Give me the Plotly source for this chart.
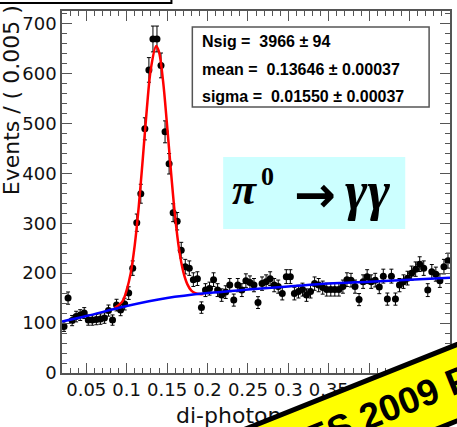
import plotly.graph_objects as go

# ---------------- data ----------------
bin_low = 0.02
bin_width = 0.005
counts = [93, 150, 105, 113, 116, 120, 106, 106, 107, 108,
          110, 125, 106, 136, 126, 138, 160, 210, 301, 359,
          489, 607, 669, 669, 616, 483, 419, 321, 304, 246,
          213, 210, 187, 189, 131, 166, 169, 187, 166, 156,
          162, 176, 146, 176, 166, 185, 181, 176, 141, 179,
          183, 189, 176, 173, 159, 193, 193, 159, 163, 167,
          156, 163, 179, 176, 171, 167, 167, 167, 167, 173,
          187, 186, 173, 147, 183, 193, 183, 186, 172, 194,
          148, 194, 148, 176, 183, 190, 200, 208, 218, 210,
          166, 203, 198, 185, 213, 225]
bin_centers = [round(bin_low + bin_width * (i + 0.5), 5) for i in range(len(counts))]

# total fit (signal + background)
total_x = [0.085, 0.09, 0.095, 0.10, 0.105, 0.11, 0.115, 0.12, 0.125, 0.13,
           0.1365, 0.14, 0.145, 0.15, 0.155, 0.16, 0.165, 0.17, 0.175, 0.18,
           0.185, 0.19, 0.195]
total_y = [130, 136, 144, 166, 200, 256, 334, 430, 530, 610,
           655, 643, 585, 496, 400, 312, 246, 203, 178, 165,
           160, 158, 158]

# background component
bkg_x = [0.02, 0.05, 0.10, 0.15, 0.20, 0.25, 0.30, 0.35, 0.40, 0.45, 0.50]
bkg_y = [103, 114, 134, 150, 160, 167, 173, 179, 183, 187, 191]

x_tickvals = [0.05, 0.1, 0.15, 0.2, 0.25, 0.3, 0.35, 0.4, 0.45, 0.5]
x_ticktext = ["0.05", "0.1", "0.15", "0.2", "0.25", "0.3", "0.35", "0.4", "0.45", "0.5"]
y_tickvals = [0, 100, 200, 300, 400, 500, 600, 700]

stats_lines = ["Nsig =  3966 \u00b1 94",
               "mean =  0.13646 \u00b1 0.00037",
               "sigma =  0.01550 \u00b1 0.00037"]

# ---------------- geometry helpers (layout only) ----------------
W, H = 457, 427
L, R, T, B = 62, 452, 11, 373


def pxx(px):
    return (px - L) / (R - L)


def pxy(py):
    return (B - py) / (B - T)


fig = go.Figure()

fig.add_trace(go.Scatter(
    x=bin_centers, y=counts, mode="markers",
    marker=dict(color="black", size=7),
    error_y=dict(type="sqrt", color="black", thickness=1, width=2),
    showlegend=False, hoverinfo="skip"))

fig.add_trace(go.Scatter(
    x=total_x, y=total_y, mode="lines",
    line=dict(color="#ff0000", width=2.5, shape="spline"),
    showlegend=False, hoverinfo="skip"))

fig.add_trace(go.Scatter(
    x=bkg_x, y=bkg_y, mode="lines",
    line=dict(color="#0000ff", width=2.5, shape="spline"),
    showlegend=False, hoverinfo="skip"))

axis_common = dict(
    showgrid=False, zeroline=False, showline=True, linecolor="#555555",
    linewidth=1.5, mirror="ticks", ticks="inside", tickcolor="#555555",
    tickwidth=1.2, ticklen=10,
    tickfont=dict(family="DejaVu Sans", size=18, color="#111111"),
)

fig.update_xaxes(range=[0.02, 0.5], tickvals=x_tickvals, ticktext=x_ticktext,
                 minor=dict(dtick=0.01, ticks="inside", ticklen=5,
                            tickcolor="#555555", tickwidth=1.2),
                 **axis_common)
fig.update_yaxes(range=[0, 725], tickvals=y_tickvals,
                 minor=dict(dtick=20, ticks="inside", ticklen=5,
                            tickcolor="#555555", tickwidth=1.2),
                 **axis_common)

shapes = [
    # title pave at the top-left (cut by the image edge)
    dict(type="rect", xref="paper", yref="paper",
         x0=pxx(-10), x1=pxx(172), y0=pxy(-30), y1=pxy(3),
         line=dict(color="black", width=2), fillcolor="white", layer="above"),
    # stats box
    dict(type="rect", xref="paper", yref="paper",
         x0=pxx(193), x1=pxx(431), y0=pxy(107), y1=pxy(27),
         line=dict(color="#555555", width=1.5), fillcolor="white", layer="above"),
    # cyan label box
    dict(type="rect", xref="paper", yref="paper",
         x0=pxx(224), x1=pxx(407), y0=pxy(229), y1=pxy(157),
         line=dict(width=0), fillcolor="#ccffff", layer="above"),
]

annotations = [
    dict(text="di-photon mass (GeV/c<sup>2</sup>)", xref="paper", yref="paper",
         x=pxx(175), y=pxy(414), xanchor="left", yanchor="middle",
         showarrow=False, font=dict(family="DejaVu Sans", size=22, color="#111111")),
    dict(text="Events / ( 0.005 )", xref="paper", yref="paper",
         x=pxx(11), y=pxy(100), xanchor="center", yanchor="middle", textangle=-90,
         showarrow=False, font=dict(family="DejaVu Sans", size=22, color="#111111")),
]
for line_txt, cy in zip(stats_lines, [41, 69, 96]):
    annotations.append(dict(
        text=line_txt, xref="paper", yref="paper", x=pxx(201), y=pxy(cy),
        xanchor="left", yanchor="middle", showarrow=False,
        font=dict(family="Liberation Sans", size=16, color="black", weight="bold")))

# pi0 -> gamma gamma label, in pieces
annotations += [
    dict(text="<b><i>\u03c0</i></b>", xref="paper", yref="paper",
         x=pxx(245), y=pxy(189), xanchor="center", yanchor="middle", showarrow=False,
         font=dict(family="Liberation Serif", size=44, color="black")),
    dict(text="<b>0</b>", xref="paper", yref="paper",
         x=pxx(269), y=pxy(176), xanchor="center", yanchor="middle", showarrow=False,
         font=dict(family="Liberation Serif", size=26, color="black")),
    dict(text="\u2192", xref="paper", yref="paper",
         x=pxx(316), y=pxy(195), xanchor="center", yanchor="middle", showarrow=False,
         font=dict(family="DejaVu Sans", size=50, color="black", weight="bold")),
    dict(text="<b><i>\u03b3\u03b3</i></b>", xref="paper", yref="paper",
         x=pxx(369), y=pxy(191), xanchor="center", yanchor="middle", showarrow=False,
         font=dict(family="Liberation Serif", size=54, color="black")),
]

# yellow banner
annotations.append(dict(
    text=" ", xref="paper", yref="paper", x=pxx(418), y=pxy(399),
    xanchor="center", yanchor="middle", showarrow=False, textangle=-21.8,
    width=900, height=64, bgcolor="#ffff00", bordercolor="black", borderwidth=5,
    font=dict(size=10)))
annotations.append(dict(
    text="BES 2009 Preliminary", xref="paper", yref="paper",
    x=pxx(460), y=pxy(380), xanchor="center", yanchor="middle",
    showarrow=False, textangle=-21.8,
    font=dict(family="Liberation Sans", size=37, color="black", weight="bold")))

fig.update_layout(
    width=W, height=H, autosize=False,
    margin=dict(l=L, r=W - R, t=T, b=H - B),
    paper_bgcolor="white", plot_bgcolor="white",
    shapes=shapes, annotations=annotations,
)

fig.write_html("out.html")
